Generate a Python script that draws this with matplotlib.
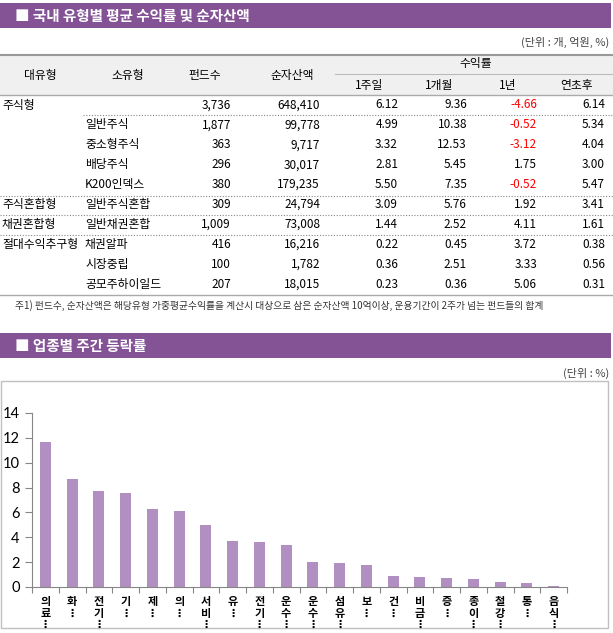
import numpy as np
import matplotlib
matplotlib.use('Agg')
import matplotlib.pyplot as plt
from matplotlib.patches import Rectangle

plt.rcParams['font.family'] = ['Noto Sans CJK KR', 'DejaVu Sans']

# --- table data ---
big_type = ['주식형', '', '', '', '', '주식혼합형', '채권혼합형', '절대수익추구형', '', '']
sub_type = ['', '일반주식', '중소형주식', '배당주식', 'K200인덱스', '일반주식혼합',
            '일반채권혼합', '채권알파', '시장중립', '공모주하이일드']
fund_cnt = [3736, 1877, 363, 296, 380, 309, 1009, 416, 100, 207]
net_asset = [648410, 99778, 9717, 30017, 179235, 24794, 73008, 16216, 1782, 18015]
ret_1w = [6.12, 4.99, 3.32, 2.81, 5.50, 3.09, 1.44, 0.22, 0.36, 0.23]
ret_1m = [9.36, 10.38, 12.53, 5.45, 7.35, 5.76, 2.52, 0.45, 2.51, 0.36]
ret_1y = [-4.66, -0.52, -3.12, 1.75, -0.52, 1.92, 4.11, 3.72, 3.33, 5.06]
ret_ytd = [6.14, 5.34, 4.04, 3.00, 5.47, 3.41, 1.61, 0.38, 0.56, 0.31]

# --- bar chart data ---
sectors = ['의료', '화', '전기', '기', '제', '의', '서비', '유', '전기', '운수',
           '운수', '섬유', '보', '건', '비금', '증', '종이', '철강', '통', '음식']
weekly = [11.63, 8.67, 7.71, 7.55, 6.27, 6.11, 4.99, 3.71, 3.63, 3.39,
          2.03, 1.95, 1.79, 0.91, 0.83, 0.75, 0.67, 0.43, 0.35, 0.12]

PURPLE = '#845396'
BAR = '#b28fc2'
W, H = 613, 633

fig = plt.figure(figsize=(W / 100, H / 100), dpi=100)
bg = fig.add_axes([0, 0, 1, 1])
bg.set_xlim(0, W)
bg.set_ylim(H, 0)
bg.axis('off')

def title_bar(y0, text):
    bg.add_patch(Rectangle((0, y0), 611, 25, color=PURPLE, lw=0))
    bg.text(15, y0 + 12.5, '■ ' + text, color='white', fontsize=10.5,
            fontweight='bold', va='center', ha='left')

# ---- section 1: table ----
title_bar(3, '국내 유형별 평균 수익률 및 순자산액')
bg.text(609, 42, '(단위 : 개, 억원, %)', fontsize=8, color='#444', ha='right', va='center')

bg.add_patch(Rectangle((0, 55), W, 40, color='#f0f0f0', lw=0))
bg.plot([0, W], [55, 55], color='#999999', lw=1.5)
bg.plot([0, W], [95, 95], color='#aaaaaa', lw=1)
bg.plot([335, W], [74, 74], color='#bbbbbb', lw=0.8)

hfs = 8.5
for txt, x in [('대유형', 40), ('소유형', 128), ('펀드수', 205), ('순자산액', 292)]:
    bg.text(x, 75, txt, fontsize=hfs, ha='center', va='center')
bg.text(476, 64, '수익률', fontsize=hfs, ha='center', va='center')
for txt, x in [('1주일', 369), ('1개월', 439), ('1년', 508), ('연초후', 577)]:
    bg.text(x, 85, txt, fontsize=hfs, ha='center', va='center')

row_y = [105 + 19.9 * i for i in range(len(sub_type))]
for i, y in enumerate(row_y):
    bg.text(2, y, big_type[i], fontsize=hfs, ha='left', va='center')
    bg.text(85, y, sub_type[i], fontsize=hfs, ha='left', va='center')
    bg.text(231, y, f'{fund_cnt[i]:,}', fontsize=hfs, ha='right', va='center')
    bg.text(320, y, f'{net_asset[i]:,}', fontsize=hfs, ha='right', va='center')
    for vals, xr in [(ret_1w, 398), (ret_1m, 467), (ret_1y, 537), (ret_ytd, 605)]:
        v = vals[i]
        bg.text(xr, y, f'{v:.2f}', fontsize=hfs, ha='right', va='center',
                color='#ff0000' if v < 0 else 'black')

dot = dict(color='#888888', lw=0.8, ls=(0, (1, 1.5)))
bg.plot([83, W], [115, 115], **dot)
for y in [195.5, 215, 235]:
    bg.plot([0, W], [y, y], **dot)
bg.plot([0, W], [295, 295], color='#aaaaaa', lw=1)

bg.text(15, 306, '주1) 펀드수, 순자산액은 해당유형 가중평균수익률을 계산시 대상으로 삼은 '
        '순자산액 10억이상, 운용기간이 2주가 넘는 펀드들의 합계',
        fontsize=7, color='#333333', ha='left', va='center')

# ---- section 2: bar chart ----
title_bar(333, '업종별 주간 등락률')
bg.text(609, 373, '(단위 : %)', fontsize=8, color='#444', ha='right', va='center')
bg.add_patch(Rectangle((0.5, 381), 607.5, 247, fill=False, ec='#c0c0c0', lw=1))

ax = fig.add_axes([32 / W, (H - 587) / H, (567 - 32) / W, (587 - 413) / H])
x = np.arange(len(weekly))
ax.bar(x, weekly, width=0.42, color=BAR, zorder=2)
ax.set_xlim(-0.5, len(weekly) - 0.5)
ax.set_ylim(0, 14)
ax.set_yticks(range(0, 15, 2))
ax.tick_params(axis='y', length=5, width=0.8, color='#868686', pad=4, labelsize=10.5)
for lab in ax.get_yticklabels():
    lab.set_fontfamily('Lato')

ax.set_xticks(x)
ax.set_xticklabels(['\n'.join(list(s)) + '\n⋮' for s in sectors],
                   fontsize=8, fontweight='bold', va='top', linespacing=0.82)
ax.set_xticks(np.arange(-0.5, len(weekly), 1), minor=True)
ax.tick_params(axis='x', which='major', length=0, pad=6)
ax.tick_params(axis='x', which='minor', length=4, width=0.8, color='#868686')

for s in ['top', 'right']:
    ax.spines[s].set_visible(False)
for s in ['left', 'bottom']:
    ax.spines[s].set_color('#868686')
    ax.spines[s].set_linewidth(0.8)

fig.savefig('out.png', dpi=100)
